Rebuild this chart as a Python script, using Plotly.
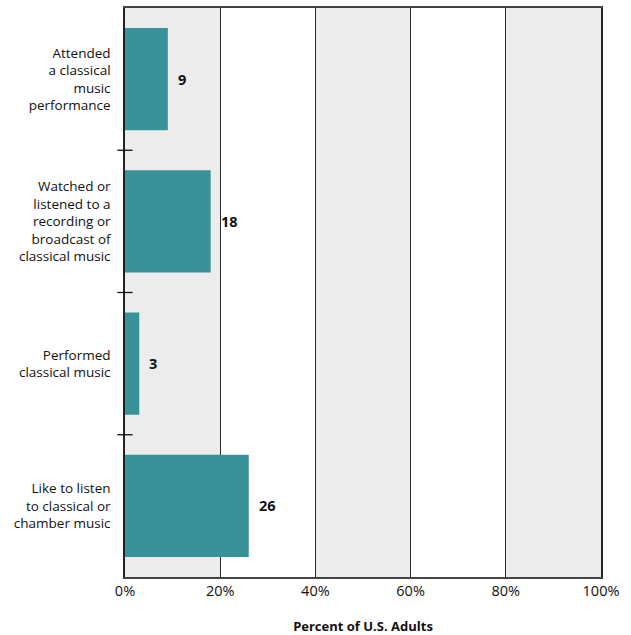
import plotly.graph_objects as go

categories = [
    "Attended<br>a classical<br>music<br>performance",
    "Watched or<br>listened to a<br>recording or<br>broadcast of<br>classical music",
    "Performed<br>classical music",
    "Like to listen<br>to classical or<br>chamber music",
]
values = [9, 18, 3, 26]
tick_vals = [0, 20, 40, 60, 80, 100]
tick_text = ["0%", "20%", "40%", "60%", "80%", "100%"]
gray_bands = [(0, 20), (40, 60), (80, 100)]

BAR = "#3a9299"
GRID = "#2b2b2b"
FONT = "Open Sans"

fig = go.Figure()
fig.add_trace(go.Bar(
    x=values, y=categories, orientation="h",
    marker=dict(color=BAR, line=dict(width=0)),
    width=0.72, hoverinfo="skip",
))

shapes = []
for a, b in gray_bands:
    shapes.append(dict(type="rect", xref="x", yref="paper", x0=a, x1=b, y0=0, y1=1,
                       fillcolor="#ececec", line=dict(width=0), layer="below"))
for i in range(len(categories) - 1):
    shapes.append(dict(type="line", xref="paper", yref="y", x0=-0.016, x1=0.016,
                       y0=i + 0.5, y1=i + 0.5, line=dict(color="#111", width=1.3)))

annotations = []
for c, v in zip(categories, values):
    annotations.append(dict(x=v, y=c, xref="x", yref="y", text=f"<b>{v}</b>",
                            showarrow=False, xanchor="left", xshift=8,
                            font=dict(family=FONT, size=14.5, color="#111")))

fig.update_layout(
    width=631, height=635,
    margin=dict(l=125, r=30, t=8, b=58, autoexpand=False),
    plot_bgcolor="white", paper_bgcolor="white",
    showlegend=False,
    shapes=shapes, annotations=annotations,
    font=dict(family=FONT, size=14, color="#111"),
    xaxis=dict(range=[0, 100], tickvals=tick_vals, ticktext=tick_text,
               showgrid=True, gridcolor=GRID, gridwidth=1, zeroline=False,
               showline=True, linecolor="#444", linewidth=2, mirror=True,
               ticks="", automargin=False, tickfont=dict(size=14.5, family=FONT),
               title=dict(text="<b>Percent of U.S. Adults</b>", standoff=22,
                          font=dict(size=13, family=FONT))),
    yaxis=dict(autorange="reversed", showgrid=False, zeroline=False,
               showline=True, linecolor="#222", linewidth=1.5, mirror=True,
               ticks="", ticklabelstandoff=10, automargin=False,
               tickfont=dict(size=13.5, family=FONT)),
)

fig.write_html("out.html", config={"displayModeBar": False},
               post_script="document.body.style.margin='0';document.body.style.overflow='hidden';")
